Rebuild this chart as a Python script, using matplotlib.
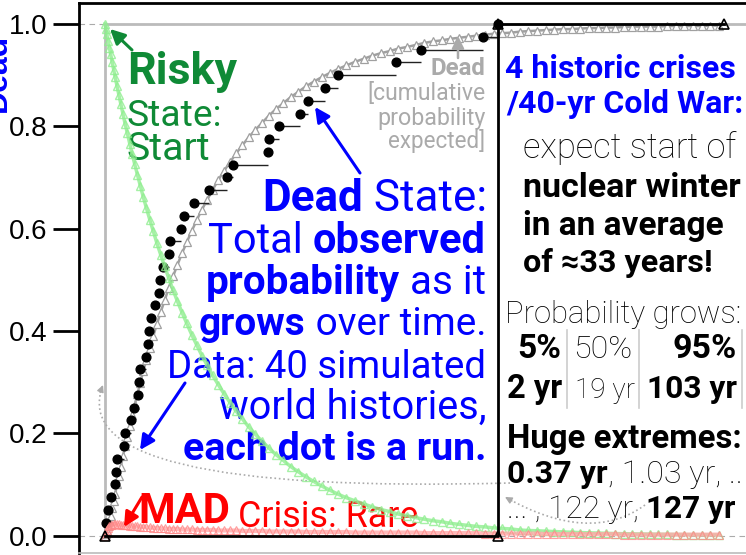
#!/usr/bin/env python3
"""
Risky -> MAD crisis -> Dead: expected state probabilities over time,
with 40 simulated world histories drawn as an empirical CDF.
"""
import matplotlib
matplotlib.use("Agg")
import matplotlib.pyplot as plt
from matplotlib.path import Path
from matplotlib.patches import PathPatch
from matplotlib.lines import Line2D

FONT = ["Roboto", "DejaVu Sans"]
TICK_FONT = "Liberation Sans"

# ---------- data ----------
# model curves: years after start, probability of each state
years = [0, 0.3, 0.6, 1, 1.4, 1.8, 2.3, 2.8, 3.3, 3.9,
         4.5, 5.1, 5.8, 6.5, 7.2, 8, 8.8, 9.6, 10.5, 11.4,
         12.4, 13.4, 14.5, 15.6, 16.8, 18, 19.3, 20.6, 22, 23.4,
         24.9, 26.4, 28, 29.6, 31.3, 33, 34.8, 36.6, 38.5, 40.4,
         42.4, 44.4, 46.5, 48.6, 50.8, 53, 55.3, 57.6, 60, 62.4,
         64.9, 67.4, 70, 72.6, 75.3, 78, 80.8, 83.6, 86.4, 89.2,
         92, 94.8, 97.6, 100.4, 103.2, 106, 108.8, 111.6, 114.4, 117.2,
         120, 122.8, 125.6, 128.4, 131.2, 134, 136.8, 139.6, 142.4, 145.2,
         148, 150.8, 153.6, 156.4, 159.2, 162, 164.8, 167.6, 170.4, 173.2,
         176, 178.8, 181.6, 184.4, 187.2, 190, 192.8, 195.6, 198.4]
risky = [1.000, 0.990, 0.980, 0.967, 0.954, 0.942, 0.926, 0.911, 0.896, 0.878,
         0.861, 0.844, 0.824, 0.805, 0.787, 0.766, 0.746, 0.726, 0.705, 0.684,
         0.661, 0.640, 0.617, 0.595, 0.571, 0.549, 0.526, 0.503, 0.480, 0.458,
         0.436, 0.415, 0.393, 0.373, 0.352, 0.333, 0.313, 0.295, 0.277, 0.260,
         0.243, 0.228, 0.212, 0.198, 0.184, 0.171, 0.158, 0.147, 0.135, 0.125,
         0.115, 0.106, 0.097, 0.089, 0.081, 0.074, 0.068, 0.062, 0.056, 0.051,
         0.047, 0.042, 0.039, 0.035, 0.032, 0.029, 0.027, 0.024, 0.022, 0.020,
         0.018, 0.017, 0.015, 0.014, 0.013, 0.011, 0.010, 0.0095, 0.0087, 0.0079,
         0.0072, 0.0066, 0.0060, 0.0054, 0.0050, 0.0045, 0.0041, 0.0037, 0.0034, 0.0031,
         0.0028, 0.0026, 0.0024, 0.0021, 0.0020, 0.0018, 0.0016, 0.0015, 0.0013]
crisis = [0.000, 0.006, 0.011, 0.015, 0.018, 0.020, 0.021, 0.022, 0.022, 0.022,
          0.022, 0.021, 0.021, 0.020, 0.020, 0.019, 0.019, 0.018, 0.018, 0.017,
          0.017, 0.016, 0.016, 0.015, 0.015, 0.014, 0.014, 0.013, 0.013, 0.013,
          0.012, 0.012, 0.012, 0.011, 0.011, 0.011, 0.011, 0.010, 0.010, 0.010,
          0.010, 0.009, 0.009, 0.009, 0.009, 0.008, 0.008, 0.008, 0.008, 0.008,
          0.007, 0.007, 0.007, 0.007, 0.007, 0.007, 0.006, 0.006, 0.006, 0.006,
          0.006, 0.006, 0.006, 0.006, 0.005, 0.005, 0.005, 0.005, 0.005, 0.005,
          0.005, 0.004, 0.004, 0.004, 0.004, 0.004, 0.004, 0.004, 0.003, 0.003,
          0.003, 0.003, 0.003, 0.003, 0.003, 0.003, 0.003, 0.002, 0.002, 0.002,
          0.002, 0.002, 0.002, 0.002, 0.002, 0.002, 0.002, 0.002, 0.002]
dead_expected = [0.000, 0.004, 0.009, 0.018, 0.028, 0.038, 0.053, 0.067, 0.082, 0.100,
                 0.117, 0.135, 0.155, 0.175, 0.193, 0.215, 0.235, 0.256, 0.277, 0.299,
                 0.322, 0.344, 0.367, 0.390, 0.414, 0.437, 0.460, 0.484, 0.507, 0.529,
                 0.552, 0.573, 0.595, 0.616, 0.637, 0.656, 0.676, 0.695, 0.713, 0.730,
                 0.747, 0.763, 0.779, 0.793, 0.807, 0.821, 0.834, 0.845, 0.857, 0.867,
                 0.878, 0.887, 0.896, 0.904, 0.912, 0.919, 0.926, 0.932, 0.938, 0.943,
                 0.947, 0.952, 0.955, 0.959, 0.963, 0.966, 0.968, 0.971, 0.973, 0.975,
                 0.977, 0.979, 0.981, 0.982, 0.983, 0.985, 0.986, 0.987, 0.988, 0.989,
                 0.990, 0.990, 0.991, 0.992, 0.992, 0.993, 0.993, 0.994, 0.995, 0.995,
                 0.995, 0.995, 0.996, 0.996, 0.996, 0.996, 0.996, 0.997, 0.997]

# 40 simulated world histories: year each run reached the Dead state
run_years = [0.37, 1.03, 1.9, 3.2, 3.6, 3.9, 6.3, 6.6, 8.4, 9.4,
             10.7, 11.0, 11.3, 13.3, 13.9, 14.1, 14.9, 16.2, 17.5, 17.8,
             18.7, 20.7, 21.0, 24.6, 25.5, 28.8, 33.6, 39.4, 41.4, 52.7,
             53.0, 56.2, 63.0, 65.6, 71.1, 75.3, 94.1, 102.1, 122.0, 127.0]
run_fraction = [0.025, 0.050, 0.075, 0.100, 0.125, 0.150, 0.175, 0.200, 0.225, 0.250,
                0.275, 0.300, 0.325, 0.350, 0.375, 0.400, 0.425, 0.450, 0.475, 0.500,
                0.525, 0.550, 0.575, 0.600, 0.625, 0.650, 0.675, 0.700, 0.725, 0.750,
                0.775, 0.800, 0.825, 0.850, 0.875, 0.900, 0.925, 0.950, 0.975, 1.000]

# reference outlines
limit_years = [0, 0, 215]
limit_prob = [0, 1, 1]
box_years = [0, 127, 127, 200]
box_prob = [0, 0, 1, 1]

yticks = [0.0, 0.2, 0.4, 0.6, 0.8, 1.0]

GREEN = "#0f8a36"
BLUE = "#0000ff"
GREY = "#aaaaaa"

# ---------- figure ----------
W, H = 746, 555
fig = plt.figure(figsize=(W / 100, H / 100), dpi=100)
ax = fig.add_axes([79 / W, 2 / H, 721 / W, 550 / H])
ax.set_xlim(-8.4, 224.6)
ax.set_ylim(-0.034, 1.041)

ax.axhline(0, color=GREY, lw=0.8, ls=(0, (5, 4)), zorder=1)
ax.axhline(1, color=GREY, lw=0.8, ls=(0, (5, 4)), zorder=1)
ax.plot(limit_years, limit_prob, color="#bbbbbb", lw=2, zorder=2)
ax.plot(years, dead_expected, color="#a0a0a0", lw=1.8, marker="^", ms=6,
        mfc="white", mec="#a0a0a0", mew=0.9, zorder=3)
ax.hlines(run_fraction[:-1], run_years[:-1], run_years[1:],
          color="#222222", lw=1, zorder=4)
ax.plot(run_years, run_fraction, "o", color="black", ms=6.3, zorder=5)
ax.plot(years, risky, color="#90ee90", lw=2.5, alpha=0.8, marker="^", ms=6,
        mfc="none", mec="#90ee90", mew=1, zorder=6)
ax.plot(years, crisis, color="#ffa8a8", lw=3, alpha=0.8, marker="^", ms=5.5,
        mfc="none", mec="#ff8888", mew=0.8, zorder=6)
ax.plot(box_years, box_prob, color="black", lw=2, marker="^", ms=7,
        mfc="none", mec="black", mew=1.2, zorder=7)

ax.spines["right"].set_visible(False)
ax.spines["left"].set_linewidth(2)
ax.spines["top"].set_linewidth(2)
ax.spines["bottom"].set_color("#bbbbbb")
ax.spines["bottom"].set_linewidth(1.2)
ax.set_xticks([])
ax.set_yticks(yticks)
ax.set_yticklabels([f"{v:.1f}" for v in yticks], fontfamily=TICK_FONT)
ax.tick_params(axis="y", length=18.7, width=2, pad=4.3, labelsize=20)

renderer = fig.canvas.get_renderer()


def F(x, y):
    """image pixel (top-left origin) -> figure fraction"""
    return x / W, 1 - y / H


def seg_width(s, size, weight):
    probe = ax.text(0, 0, "|" + s + "|", fontsize=size, fontweight=weight,
                    family=FONT, transform=fig.transFigure)
    bars = ax.text(0, 0, "||", fontsize=size, fontweight=weight,
                   family=FONT, transform=fig.transFigure)
    w = probe.get_window_extent(renderer).width - bars.get_window_extent(renderer).width
    probe.remove()
    bars.remove()
    return w


def line(parts, x0, x1, base, color, zorder=5.5):
    ref = 20
    size = ref * (x1 - x0) / sum(seg_width(s, ref, w) for s, w in parts)
    x = x0
    for s, w in parts:
        ax.text(*F(x, base), s, fontsize=size, fontweight=w, family=FONT,
                color=color, ha="left", va="baseline",
                transform=fig.transFigure, zorder=zorder)
        x += seg_width(s, size, w)


B, N, L = "bold", "normal", "light"
notes = [
    ([("Risky", B)], 127, 237, 84, GREEN),
    ([("State:", N)], 127, 222, 126, GREEN),
    ([("Start", N)], 127, 210, 160, GREEN),
    ([("Dead", B)], 430, 485, 75, GREY),
    ([("[cumulative", N)], 367, 485, 100, GREY),
    ([("probability", N)], 377, 485, 125, GREY),
    ([("expected]", N)], 388, 485, 148, GREY),
    ([("Dead", B), (" State:", N)], 262, 486, 211, BLUE),
    ([("Total ", N), ("observed", B)], 208, 486, 253, BLUE),
    ([("probability", B), (" as it", N)], 206, 486, 294, BLUE),
    ([("grows", B), (" over time.", N)], 199, 486, 335, BLUE),
    ([("Data: 40 simulated", N)], 167, 486, 378, BLUE),
    ([("world histories,", N)], 219, 486, 419, BLUE),
    ([("each dot is a run.", B)], 183, 486, 460, BLUE),
    ([("MAD", B)], 138, 230, 523, "red"),
    ([("Crisis: Rare", N)], 238, 418, 527, "red"),
    ([("4 historic crises", B)], 505, 735, 78, BLUE),
    ([("/40-yr Cold War:", B)], 506, 742, 113, BLUE),
    ([("expect start of", L)], 523, 737, 158, "black"),
    ([("nuclear winter", B)], 523, 740, 197, "black"),
    ([("in an average", B)], 523, 723, 235, "black"),
    ([("of ≈33 years!", B)], 523, 712, 272, "black"),
    ([("Probability grows:", L)], 505, 742, 323, "black"),
    ([("5%", B)], 517, 561, 358, "black"),
    ([("50%", L)], 573, 632, 358, "black"),
    ([("95%", B)], 673, 737, 358, "black"),
    ([("2 yr", B)], 507, 562, 398, "black"),
    ([("19 yr", L)], 575, 635, 398, "black"),
    ([("103 yr", B)], 647, 737, 398, "black"),
    ([("Huge extremes:", B)], 507, 741, 448, "black"),
    ([("0.37 yr", B), (", 1.03 yr, ..", L)], 507, 742, 483, "black"),
    ([("... , 122 yr, ", L), ("127 yr", B)], 507, 736, 518, "black"),
]
for parts, x0, x1, base, color in notes:
    line(parts, x0, x1, base, color)

# table separators
for xs in (567, 639, 742):
    ax.add_line(Line2D([xs / W, xs / W], [1 - 330 / H, 1 - 408 / H],
                       color="#cccccc", lw=1.2, transform=fig.transFigure,
                       clip_on=False, zorder=5))

# y label, mostly cut off at the left edge as in the original crop
ax.text(*F(13, 73), "Dead", rotation=90, ha="right", va="center",
        fontsize=23, fontweight="bold", color=BLUE, family=TICK_FONT,
        transform=fig.transFigure)


# ---------- arrows ----------
def arrow(tail, head, color, lw=2.2, scale=22):
    ax.annotate("", xy=F(*head), xytext=F(*tail), xycoords="figure fraction",
                textcoords="figure fraction",
                arrowprops=dict(arrowstyle="-|>", color=color, lw=lw,
                                mutation_scale=scale, shrinkA=0, shrinkB=0),
                zorder=8)


arrow((132, 50), (110, 29), GREEN)
arrow((360, 173), (315, 107), BLUE)
arrow((185, 383), (140, 450), BLUE)
arrow((142, 497), (124, 527), "red")
arrow((458, 58), (458, 36), GREY, lw=1.8, scale=18)


def dotted_arrow(a, c, b):
    path = Path([F(*a), F(*c), F(*b)], [Path.MOVETO, Path.CURVE3, Path.CURVE3])
    ax.add_patch(PathPatch(path, fill=False, ec=GREY, lw=1.2, ls=":",
                           transform=fig.transFigure, clip_on=False, zorder=2))
    dx, dy = b[0] - c[0], b[1] - c[1]
    n = (dx * dx + dy * dy) ** 0.5
    arrow((b[0] - dx / n * 8, b[1] - dy / n * 8), b, GREY, lw=1, scale=10)


dotted_arrow((510, 483), (60, 495), (103, 385))
dotted_arrow((645, 505), (590, 545), (505, 497))

fig.savefig("out.png", dpi=100)
